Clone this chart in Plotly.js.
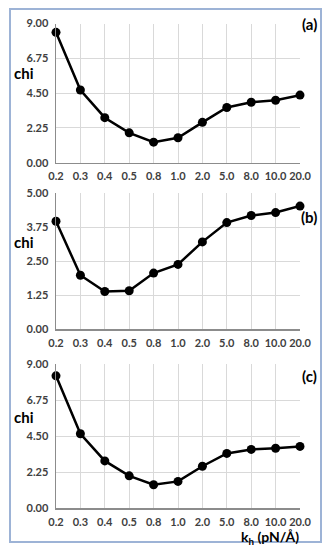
<!DOCTYPE html>
<html>
<head>
<meta charset="utf-8">
<script src="https://cdn.plot.ly/plotly-3.0.1.min.js"></script>
<style>html,body{margin:0;padding:0;background:#fff;}#chart{width:327px;height:550px;}</style>
</head>
<body>
<div id="chart"></div>
<script>
const categories = ["0.2","0.3","0.4","0.5","0.8","1.0","2.0","5.0","8.0","10.0","20.0"];
const chiA = [8.43, 4.70, 2.91, 1.93, 1.33, 1.61, 2.61, 3.57, 3.91, 4.04, 4.37];
const chiB = [3.97, 1.98, 1.38, 1.41, 2.06, 2.38, 3.21, 3.92, 4.18, 4.29, 4.53];
const chiC = [8.28, 4.66, 2.96, 2.03, 1.47, 1.68, 2.63, 3.43, 3.68, 3.75, 3.87];
const ticksA = [0, 2.25, 4.5, 6.75, 9];
const ticksB = [0, 1.25, 2.5, 3.75, 5];
const ticksC = [0, 2.25, 4.5, 6.75, 9];
const panelLabels = ["(a)", "(b)", "(c)"];

const W = 327, H = 550;
const px = v => v / W;
const py = v => 1 - v / H;

function trace(y, xa, ya) {
  return {
    x: categories, y: y, xaxis: xa, yaxis: ya, type: 'scatter', mode: 'lines+markers',
    line: {color: '#000', width: 2.5},
    marker: {color: '#000', size: 9},
    hoverinfo: 'skip', cliponaxis: false
  };
}

const tickFont = {family: 'Lato, "Liberation Sans", sans-serif', size: 11, color: '#404040', weight: 'bold'};
function xax(anchor) {
  return {
    type: 'category', categoryorder: 'array', categoryarray: categories,
    domain: [px(56), px(300)], anchor: anchor, range: [0, 10],
    showgrid: true, gridcolor: '#d9d9d9', gridwidth: 1,
    showline: true, linecolor: '#8c8c8c', linewidth: 1.5,
    ticks: '', tickfont: tickFont, ticklabelstandoff: 3, zeroline: false, fixedrange: true
  };
}
function yax(anchor, dom, ticks) {
  return {
    domain: dom, anchor: anchor, range: [ticks[0], ticks[ticks.length - 1]],
    tickmode: 'array', tickvals: ticks, tickformat: '.2f',
    showgrid: true, gridcolor: '#d9d9d9', gridwidth: 1,
    showline: true, linecolor: '#8c8c8c', linewidth: 1.5,
    ticks: '', tickfont: tickFont, ticklabelstandoff: 4, zeroline: false, fixedrange: true
  };
}

const layout = {
  width: W, height: H,
  margin: {l: 0, r: 0, t: 0, b: 0},
  paper_bgcolor: '#fff', plot_bgcolor: '#fff',
  showlegend: false,
  xaxis: xax('y'), yaxis: yax('x', [py(162.7), py(23.5)], ticksA),
  xaxis2: xax('y2'), yaxis2: yax('x2', [py(329), py(193.3)], ticksB),
  xaxis3: xax('y3'), yaxis3: yax('x3', [py(508.3), py(364.3)], ticksC),
  shapes: [{
    type: 'rect', xref: 'paper', yref: 'paper',
    x0: px(10), x1: px(321), y0: py(542), y1: py(9),
    line: {color: '#9db3d6', width: 2}
  }],
  annotations: []
};

const labelFont = {family: 'Lato, "Liberation Sans", sans-serif', size: 15, color: '#000', weight: 'bold'};
const chiY = [73, 242, 417];
const panY = [24, 217, 376];
for (let i = 0; i < 3; i++) {
  layout.annotations.push({text: 'chi', xref: 'paper', yref: 'paper', x: px(24), y: py(chiY[i]),
    xanchor: 'center', yanchor: 'middle', showarrow: false, font: labelFont});
  layout.annotations.push({text: panelLabels[i], xref: 'paper', yref: 'paper', x: px(309), y: py(panY[i]),
    xanchor: 'center', yanchor: 'middle', showarrow: false, font: labelFont});
}
layout.annotations.push({text: 'k<sub>h</sub> (pN/Å)', xref: 'paper', yref: 'paper', x: px(270), y: py(537),
  xanchor: 'center', yanchor: 'middle', showarrow: false,
  font: {family: 'Lato, "Liberation Sans", sans-serif', size: 14, color: '#000', weight: 'bold'}});

Plotly.newPlot('chart', [trace(chiA, 'x', 'y'), trace(chiB, 'x2', 'y2'), trace(chiC, 'x3', 'y3')], layout, {staticPlot: true, displayModeBar: false});
</script>
</body>
</html>
